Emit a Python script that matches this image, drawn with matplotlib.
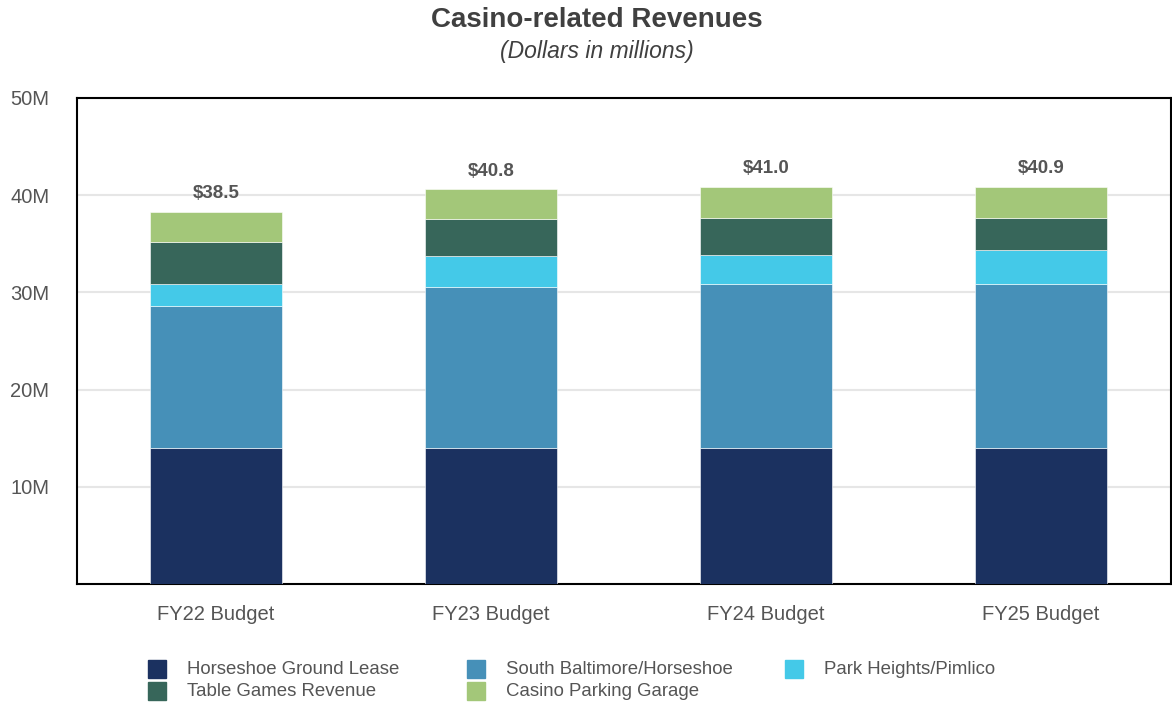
import numpy as np
import matplotlib.pyplot as plt
from matplotlib.patches import Rectangle

plt.rcParams['font.family'] = ['Liberation Sans', 'DejaVu Sans']

categories = ['FY22 Budget', 'FY23 Budget', 'FY24 Budget', 'FY25 Budget']
series_names = ['Horseshoe Ground Lease', 'South Baltimore/Horseshoe', 'Park Heights/Pimlico',
                'Table Games Revenue', 'Casino Parking Garage']
horseshoe_lease = [14.0, 14.0, 14.0, 14.0]
south_baltimore = [14.6, 16.5, 16.9, 16.9]
park_heights = [2.3, 3.2, 2.9, 3.5]
table_games = [4.3, 3.8, 3.85, 3.25]
parking_garage = [3.1, 3.1, 3.2, 3.2]
totals = [38.5, 40.8, 41.0, 40.9]
colors = ['#1b3160', '#4690b8', '#44c9e8', '#37665a', '#a3c779']

values = [horseshoe_lease, south_baltimore, park_heights, table_games, parking_garage]

fig = plt.figure(figsize=(11.72, 7.04), dpi=100)
ax = fig.add_axes([0.0657, 0.1705, 0.9335, 0.6905])

x = np.arange(len(categories))
bottom = np.zeros(len(categories))
for vals, col, name in zip(values, colors, series_names):
	ax.bar(x, vals, width=0.48, bottom=bottom, color=col, edgecolor='white',
		linewidth=0.4, label=name, zorder=3)
	bottom += np.array(vals)

for xi, top, tot in zip(x, bottom, totals):
	ax.text(xi, top + 1.0, f'${tot:.1f}', ha='center', va='bottom', fontsize=13.5,
		fontweight='bold', color='#555555')

# plot area runs slightly past the right edge in the original
ax.set_xlim(-0.5055, 3.4727)
ax.set_ylim(0, 50)
ax.set_yticks([10, 20, 30, 40, 50])
ax.set_yticklabels(['10M', '20M', '30M', '40M', '50M'])
ax.set_xticks(x)
ax.set_xticklabels(categories)
ax.tick_params(axis='both', length=0, labelsize=14.5, colors='#555555')
for lab in ax.get_yticklabels():
	lab.set_horizontalalignment('left')
ax.yaxis.set_tick_params(pad=48)
ax.xaxis.set_tick_params(pad=15)
ax.grid(axis='y', color='#e6e6e6', linewidth=1.5, zorder=0)
for sp in ax.spines.values():
	sp.set_color('black')
	sp.set_linewidth(1.5)

fig.text(0.509, 0.972, 'Casino-related Revenues', ha='center', va='center',
	fontsize=20, fontweight='bold', color='#404040')
fig.text(0.509, 0.927, '(Dollars in millions)', ha='center', va='center',
	fontsize=16.5, fontstyle='italic', color='#404040')

# legend, laid out row by row
col_x = [148, 467, 785]
row_y = [669, 691]
for i, (name, col) in enumerate(zip(series_names, colors)):
	cx = col_x[i % 3]
	cy = row_y[i // 3]
	fig.add_artist(Rectangle((cx / 1172, (704 - cy - 9) / 704), 18 / 1172, 18 / 704,
		transform=fig.transFigure, color=col))
	fig.text((cx + 39) / 1172, (704 - cy) / 704, name, ha='left', va='center',
		fontsize=13.4, color='#555555')

fig.savefig('out.png', dpi=100)
